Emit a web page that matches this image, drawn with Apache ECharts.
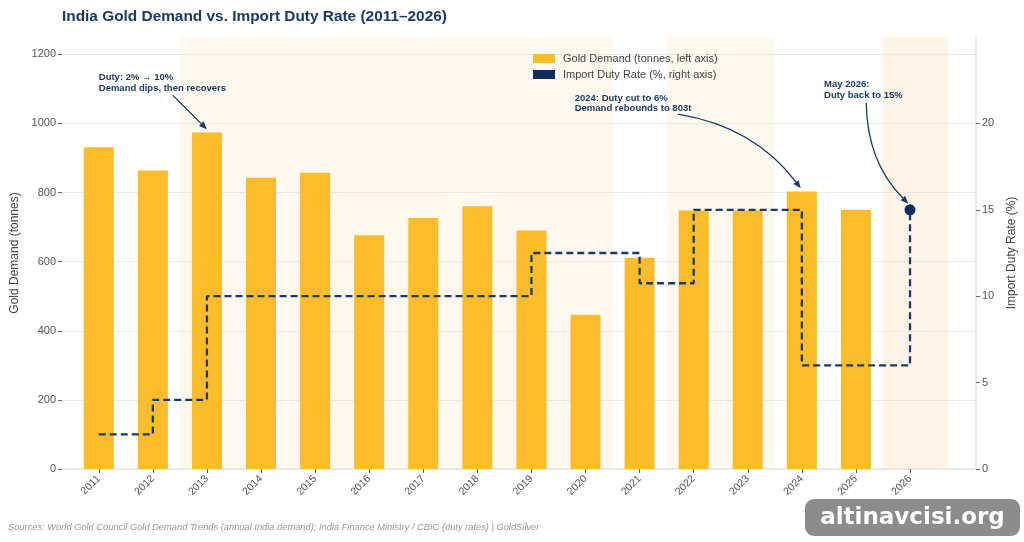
<!DOCTYPE html>
<html>
<head>
<meta charset="utf-8">
<title>India Gold Demand vs. Import Duty Rate (2011–2026)</title>
<script src="https://cdn.jsdelivr.net/npm/echarts@6.0.0/dist/echarts.min.js"></script>
<style>
  html, body { margin: 0; padding: 0; background: #fff; }
  #main { width: 1024px; height: 542px; }
</style>
</head>
<body>
<div id="main"></div>
<script>
// data
var years = [2011, 2012, 2013, 2014, 2015, 2016, 2017, 2018, 2019, 2020, 2021, 2022, 2023, 2024, 2025, 2026];
var demandYears = [2011, 2012, 2013, 2014, 2015, 2016, 2017, 2018, 2019, 2020, 2021, 2022, 2023, 2024, 2025];
var demand = [931, 864, 974, 843, 857, 676, 726, 760, 690, 446, 611, 748, 748, 803, 750];
var duty = [2, 4, 10, 10, 10, 10, 10, 10, 12.5, 12.5, 10.75, 15, 15, 6, 6, 15];
var leftTicks = [0, 200, 400, 600, 800, 1000, 1200];
var rightTicks = [0, 5, 10, 15, 20];
// shaded periods (start, end, colour)
var shadeStart = [2012.5, 2021.5, 2025.5];
var shadeEnd = [2020.5, 2023.5, 2026.7];
var shadeColor = ['rgba(247,231,191,0.25)', 'rgba(247,231,191,0.25)', 'rgba(248,222,175,0.3)'];

// annotations: text anchor (left axis units) and arrow from/to
var noteText = ['Duty: 2% \u2192 10%\nDemand dips, then recovers',
                '2024: Duty cut to 6%\nDemand rebounds to 803t',
                'May 2026:\nDuty back to 15%'];
var noteX = [2011.0, 2019.80, 2024.41];
var noteY = [1147, 1088, 1127];
var arrowFrom = [[2012.37, 1081], [2021.71, 1027], [2025.19, 21.2]];
var arrowTo = [[2013, 983], [2023.98, 812], [2025.97, 15.35]];
var arrowAxis = [0, 0, 1];
var arrowCurve = [0, 0.2, -0.2];

var NAVY = '#1b3a6b';
var DOT = '#0d2b5e';
var GOLD = '#fcbc2b';

var chart = echarts.init(document.getElementById('main'));

var barData = demandYears.map(function (y, i) { return [y, demand[i]]; });
var dutyData = years.map(function (y, i) {
    if (i === years.length - 1) {
        return { value: [y, duty[i]], symbol: 'circle', symbolSize: 11 };
    }
    return [y, duty[i]];
});
var areas = shadeStart.map(function (s, i) {
    return [{ xAxis: s, itemStyle: { color: shadeColor[i] } }, { xAxis: shadeEnd[i] }];
});

// grid colours: last one hides the line at the axis max
var gridColors = leftTicks.map(function () { return '#ebebeb'; });
gridColors.push('rgba(0,0,0,0)');

var option = {
    animation: false,
    backgroundColor: '#ffffff',
    textStyle: { fontFamily: 'Liberation Sans, Arial, sans-serif' },
    title: {
        text: 'India Gold Demand vs. Import Duty Rate (2011–2026)',
        left: 57, top: 4,
        textStyle: { color: NAVY, fontSize: 15.4, fontWeight: 'bold', fontFamily: 'Liberation Sans' }
    },
    legend: {
        left: 528, top: 48,
        orient: 'vertical',
        itemWidth: 22, itemHeight: 9, itemGap: 5,
        textStyle: { color: '#444', fontSize: 11, padding: [0, 0, 0, 3] },
        data: [
            { name: 'Gold Demand (tonnes, left axis)', icon: 'rect' },
            { name: 'Import Duty Rate (%, right axis)', icon: 'rect',
              itemStyle: { color: DOT, borderWidth: 0 }, lineStyle: { width: 0 } }
        ]
    },
    grid: { left: 62, right: 48, top: 37, bottom: 73, outerBoundsMode: 'none' },
    xAxis: {
        type: 'value',
        min: 2010.32, max: 2027.22,
        axisLine: { show: true, lineStyle: { color: '#e3e3e3', width: 1.5 } },
        axisTick: { show: true, customValues: years, length: 4, lineStyle: { color: '#666' } },
        axisLabel: {
            customValues: years, rotate: 45, color: '#555', fontSize: 10.5, margin: 8,
            formatter: function (v) { return String(v); }
        },
        splitLine: { show: false }
    },
    yAxis: [
        {
            type: 'value', min: 0, max: 1250, interval: 200,
            name: 'Gold Demand (tonnes)', nameLocation: 'middle', nameGap: 41, nameRotate: 90,
            nameTextStyle: { color: '#444', fontSize: 12 },
            axisLine: { show: false },
            axisTick: { show: true, customValues: leftTicks, length: 4, lineStyle: { color: '#666' } },
            axisLabel: { customValues: leftTicks, color: '#555', fontSize: 11, margin: 6,
                         formatter: function (v) { return String(v); } },
            splitLine: { show: true, lineStyle: { color: gridColors, width: 1 } }
        },
        {
            type: 'value', min: 0, max: 25, interval: 5, position: 'right',
            name: 'Import Duty Rate (%)', nameLocation: 'middle', nameGap: 30, nameRotate: 90,
            nameTextStyle: { color: '#444', fontSize: 12 },
            axisLine: { show: true, lineStyle: { color: '#e3e3e3', width: 1.5 } },
            axisTick: { show: true, customValues: rightTicks, length: 4, lineStyle: { color: '#666' } },
            axisLabel: { customValues: rightTicks, color: '#555', fontSize: 11, margin: 6 },
            splitLine: { show: false }
        }
    ],
    series: [
        {
            name: 'Gold Demand (tonnes, left axis)',
            type: 'bar',
            yAxisIndex: 0,
            barWidth: 30,
            itemStyle: { color: GOLD },
            data: barData,
            markArea: { silent: true, data: areas }
        },
        {
            name: 'Import Duty Rate (%, right axis)',
            type: 'line',
            yAxisIndex: 1,
            step: 'end',
            symbol: 'none',
            z: 5,
            lineStyle: { color: NAVY, width: 2.3, type: [7, 4] },
            itemStyle: { color: DOT, borderWidth: 0 },
            data: dutyData
        }
    ]
};
chart.setOption(option);

// annotation texts and arrows, placed through the chart's own scales
var graphics = noteText.map(function (t, i) {
    var p = chart.convertToPixel({ xAxisIndex: 0, yAxisIndex: 0 }, [noteX[i], noteY[i]]);
    return {
        type: 'text', x: p[0], y: p[1], z: 10,
        style: { text: t, fill: NAVY, font: 'bold 9.5px "Liberation Sans", Arial, sans-serif', lineHeight: 10.5, textVerticalAlign: 'top' }
    };
});

arrowFrom.forEach(function (f, i) {
    var a = chart.convertToPixel({ xAxisIndex: 0, yAxisIndex: arrowAxis[i] }, f);
    var b = chart.convertToPixel({ xAxisIndex: 0, yAxisIndex: arrowAxis[i] }, arrowTo[i]);
    var dx = b[0] - a[0], dy = b[1] - a[1];
    var len = Math.sqrt(dx * dx + dy * dy);
    var c = arrowCurve[i];
    var cp = [(a[0] + b[0]) / 2 + c * dy, (a[1] + b[1]) / 2 - c * dx];
    // arrow head along the tangent at the end
    var tx = b[0] - cp[0], ty = b[1] - cp[1];
    var tl = Math.sqrt(tx * tx + ty * ty);
    tx /= tl; ty /= tl;
    var hl = 8, hw = 3.2;
    var base = [b[0] - tx * hl, b[1] - ty * hl];
    graphics.push({
        type: 'bezierCurve', z: 10, silent: true,
        shape: { x1: a[0], y1: a[1], x2: base[0], y2: base[1], cpx1: cp[0], cpy1: cp[1] },
        style: { stroke: NAVY, lineWidth: 1.3, fill: null }
    });
    graphics.push({
        type: 'polygon', z: 10, silent: true,
        shape: { points: [b, [base[0] - ty * hw, base[1] + tx * hw], [base[0] + ty * hw, base[1] - tx * hw]] },
        style: { fill: NAVY }
    });
});

graphics.push({
    type: 'text', left: 8, top: 523,
    style: {
        text: 'Sources: World Gold Council Gold Demand Trends (annual India demand); India Finance Ministry / CBIC (duty rates) | GoldSilver',
        fill: '#9a9a9a', font: 'italic 9.3px "Liberation Sans", Arial, sans-serif'
    }
});
graphics.push({
    type: 'group', left: 805, top: 499, z: 20,
    children: [
        { type: 'rect', shape: { x: 0, y: 0, width: 215, height: 37, r: 9 }, style: { fill: '#8c8c8c' } },
        { type: 'text', x: 107.5, y: 19,
          style: { text: 'altinavcisi.org', fill: '#ffffff', font: 'bold 23px "DejaVu Sans", sans-serif',
                   textAlign: 'center', textVerticalAlign: 'middle',
                   textShadowColor: 'rgba(0,0,0,0.85)', textShadowOffsetX: 1.5, textShadowOffsetY: 1.5, textShadowBlur: 0 } }
    ]
});
chart.setOption({ graphic: graphics });
</script>
</body>
</html>
